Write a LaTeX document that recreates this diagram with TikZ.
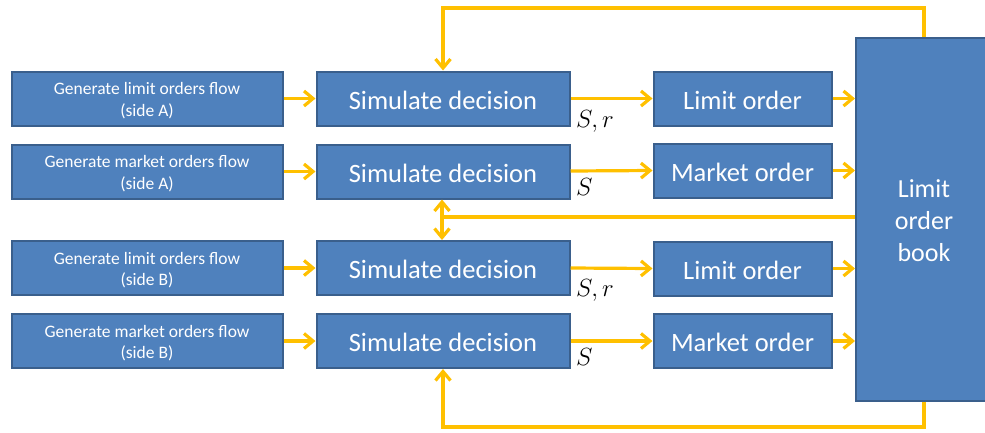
\documentclass[tikz,border=0pt]{standalone}
\usepackage{fontspec}
\setmainfont{Carlito}
\usetikzlibrary{arrows.meta}
\definecolor{boxfill}{HTML}{4F81BD}
\definecolor{boxedge}{HTML}{3A5F8C}
\definecolor{flowcol}{HTML}{FFC000}
\tikzset{
  blk/.style={draw=boxedge, line width=2pt, fill=boxfill, text=white, inner sep=0pt, align=center},
  genbox/.style={blk, minimum width=271pt, minimum height=54pt, text height=37.5pt, font=\fontsize{17.5}{21.5}\selectfont},
  simbox/.style={blk, minimum width=253pt, minimum height=54pt, text height=21pt, text depth=0pt, font=\fontsize{26.5}{30}\selectfont},
  ordbox/.style={blk, minimum width=178pt, minimum height=54pt, text height=21pt, text depth=0pt, font=\fontsize{26.5}{30}\selectfont},
  bookbox/.style={blk, minimum width=136pt, minimum height=363pt, text height=86pt, font=\fontsize{26}{32}\selectfont},
  tip/.tip={Straight Barb[length=9pt,width=15pt]},
  flow/.style={draw=flowcol, line width=3.2pt, -tip},
  flowline/.style={draw=flowcol, line width=3.2pt},
  flowboth/.style={draw=flowcol, line width=3.2pt, tip-tip},
  lbl/.style={anchor=base west, inner sep=0pt, font=\fontsize{24}{28}\selectfont}
}
\begin{document}
\begin{tikzpicture}[x=1pt,y=-1pt]
\clip (0,0) rectangle (985,432);
\useasboundingbox (0,0) rectangle (985,432);

% generator boxes
\node[genbox] (gA1) at (147,98.5) {Generate limit orders flow\\(side A)};
\node[genbox] (gA2) at (147,171.5) {Generate market orders flow\\(side A)};
\node[genbox] (gB1) at (147,268) {Generate limit orders flow\\(side B)};
\node[genbox] (gB2) at (147,341) {Generate market orders flow\\(side B)};

% decision boxes
\node[simbox] (s1) at (443,98.5) {Simulate decision};
\node[simbox] (s2) at (443,171.5) {Simulate decision};
\node[simbox] (s3) at (443,268) {Simulate decision};
\node[simbox] (s4) at (443,341) {Simulate decision};

% order boxes
\node[ordbox] (o1) at (742.5,98.5) {Limit order};
\node[ordbox] (o2) at (742.5,170.5) {Market order};
\node[ordbox] (o3) at (742.5,268.5) {Limit order};
\node[ordbox] (o4) at (742.5,341) {Market order};

% order book
\node[bookbox] (book) at (924,219) {Limit\\order\\book};

% generator -> decision
\draw[flow] (gA1) -- (s1);
\draw[flow] (gA2) -- (s2);
\draw[flow] (gB1) -- (s3);
\draw[flow] (gB2) -- (s4);

% decision -> order
\draw[flow] (s1.east) -- (o1.west);
\draw[flow] ([yshift=0.5pt]s2.east) -- (o2.west);
\draw[flow] (s3.east) -- (o3.west);
\draw[flow] (s4.east) -- (o4.west);

% order -> book
\draw[flow] (o1.east) -- (o1.east -| book.west);
\draw[flow] (o2.east) -- (o2.east -| book.west);
\draw[flow] (o3.east) -- (o3.east -| book.west);
\draw[flow] (o4.east) -- (o4.east -| book.west);

% parameter labels
\node[lbl] (l1) at (576,127) {$S,r$};
\node[lbl] (l2) at (576,195) {$S$};
\node[lbl] (l3) at (576,296) {$S,r$};
\node[lbl] (l4) at (576,365) {$S$};

% feedback from the book
\coordinate (top) at (0,8);
\coordinate (bot) at (0,427);
\coordinate (mid) at (442,217);
\draw[flow] (book.north) -- (book.north |- top) -- (s1.north |- top) -- (s1.north);
\draw[flow] (book.south) -- (book.south |- bot) -- (s4.south |- bot) -- (s4.south);
\draw[flowline] (book.west |- mid) -- (mid);
\draw[flowboth] (mid |- s2.south) -- (mid |- s3.north);
\end{tikzpicture}
\end{document}
